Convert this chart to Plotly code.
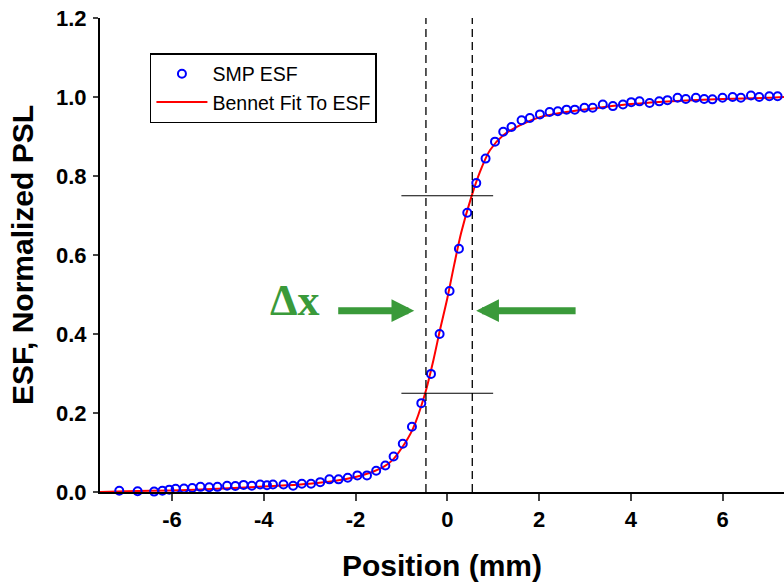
import plotly.graph_objects as go

# ---- data ----
esf_x = [-7.15, -6.75, -6.57, -6.39, -6.21, -6.06, -5.92, -5.74, -5.56, -5.38,
         -5.19, -5.01, -4.80, -4.62, -4.44, -4.26, -4.08, -3.93, -3.80, -3.57,
         -3.36, -3.17, -2.97, -2.77, -2.57, -2.37, -2.17, -1.96, -1.75, -1.55,
         -1.35, -1.17, -0.97, -0.77, -0.566, -0.355, -0.167, 0.05, 0.254, 0.436,
         0.632, 0.835, 1.04, 1.22, 1.40, 1.62, 1.80, 2.02, 2.23, 2.41,
         2.60, 2.78, 2.99, 3.17, 3.39, 3.61, 3.83, 4.01, 4.19, 4.41,
         4.62, 4.80, 5.02, 5.20, 5.42, 5.60, 5.78, 6.00, 6.22, 6.40,
         6.62, 6.80, 7.02, 7.20]
esf_y = [0.003, 0.002, -0.001, 0.001, 0.003, 0.006, 0.008, 0.009, 0.010, 0.013,
         0.012, 0.013, 0.016, 0.015, 0.018, 0.016, 0.019, 0.017, 0.019, 0.019,
         0.016, 0.021, 0.021, 0.025, 0.032, 0.032, 0.036, 0.042, 0.042, 0.054,
         0.067, 0.090, 0.122, 0.165, 0.225, 0.299, 0.400, 0.509, 0.616, 0.707,
         0.782, 0.844, 0.887, 0.912, 0.924, 0.941, 0.947, 0.956, 0.962, 0.964,
         0.968, 0.968, 0.973, 0.973, 0.981, 0.977, 0.981, 0.987, 0.989, 0.985,
         0.989, 0.992, 0.998, 0.995, 0.998, 0.995, 0.994, 0.998, 1.000, 0.998,
         1.004, 1.000, 1.002, 1.002]

fit_x = [-7.57, -7.0, -6.0, -5.0, -4.0, -3.5, -3.0, -2.5, -2.0, -1.7, -1.4, -1.2,
         -1.0, -0.75, -0.49, -0.30, -0.16, 0.0, 0.15, 0.30, 0.53, 0.71, 0.93,
         1.22, 1.58, 2.02, 2.59, 3.32, 4.0, 5.0, 6.0, 7.0, 7.34]
fit_y = [0.0, 0.002, 0.004, 0.008, 0.014, 0.017, 0.021, 0.027, 0.038, 0.048, 0.063, 0.080,
         0.110, 0.160, 0.247, 0.335, 0.410, 0.490, 0.575, 0.655, 0.749, 0.810, 0.865,
         0.903, 0.928, 0.949, 0.962, 0.973, 0.982, 0.990, 0.995, 0.998, 1.000]

x_ticks = [-6, -4, -2, 0, 2, 4, 6]
x_ticklabels = ["-6", "-4", "-2", "0", "2", "4", "6"]
y_ticks = [0.0, 0.2, 0.4, 0.6, 0.8, 1.0, 1.2]
y_ticklabels = ["0.0", "0.2", "0.4", "0.6", "0.8", "1.0", "1.2"]
x_range = [-7.57, 7.34]
y_range = [0.0, 1.2]

edge_lo, edge_hi = -0.465, 0.545      # dashed verticals
level_lo, level_hi = 0.25, 0.75       # 25% / 75% levels
level_span = [-1.0, 1.0]
arrow_y = 0.459
arrow_right = (-2.41, -0.72)          # tail, tip
arrow_left = (2.83, 0.63)             # tail, tip
green = "#3a9a3a"
font_family = "Liberation Sans, Arial, sans-serif"

fig = go.Figure()
fig.add_trace(go.Scatter(
    x=fit_x, y=fit_y, mode="lines", name="Bennet Fit To ESF",
    line=dict(color="#ff0000", width=2, shape="spline", smoothing=0.8),
    cliponaxis=False, showlegend=False))
fig.add_trace(go.Scatter(
    x=esf_x, y=esf_y, mode="markers", name="SMP ESF",
    marker=dict(symbol="circle-open", size=8, color="#0000ff",
                line=dict(width=2, color="#0000ff")),
    cliponaxis=False))
# legend-only copy of the fit so it appears second in the legend
fig.add_trace(go.Scatter(
    x=[None], y=[None], mode="lines", name="Bennet Fit To ESF",
    line=dict(color="#ff0000", width=2)))

# dashed verticals
for xv in (edge_lo, edge_hi):
    fig.add_shape(type="line", x0=xv, x1=xv, y0=y_range[0], y1=y_range[1],
                  xref="x", yref="y", line=dict(color="black", width=1.3, dash="8px,5px"))
# horizontal level lines
for yv in (level_lo, level_hi):
    fig.add_shape(type="line", x0=level_span[0], x1=level_span[1], y0=yv, y1=yv,
                  xref="x", yref="y", line=dict(color="black", width=1.2))

# arrows
for tail, tip in (arrow_right, arrow_left):
    fig.add_annotation(x=tip, y=arrow_y, ax=tail, ay=arrow_y, xref="x", yref="y",
                       axref="x", ayref="y", text="", showarrow=True,
                       arrowhead=2, arrowsize=0.65, arrowwidth=7, arrowcolor=green)
fig.add_annotation(x=-3.33, y=0.484, xref="x", yref="y", text="<b>Δx</b>",
                   showarrow=False,
                   font=dict(family="Liberation Serif, Times New Roman, serif",
                             size=44, color=green))

fig.update_layout(
    width=784, height=587,
    margin=dict(l=100, r=0, t=18, b=95),
    paper_bgcolor="white", plot_bgcolor="white",
    font=dict(family=font_family, color="black"),
    showlegend=True,
    legend=dict(x=0.073, y=0.926, xanchor="left", yanchor="top",
                bordercolor="black", borderwidth=1.5, bgcolor="white",
                font=dict(size=19.5, family=font_family), itemwidth=51,
                tracegroupgap=0),
    xaxis=dict(range=x_range, tickvals=x_ticks, ticktext=x_ticklabels,
               ticks="outside", ticklen=7, automargin=False,
               tickwidth=2, showline=True, linewidth=2, linecolor="black",
               showgrid=False, zeroline=False, mirror=False,
               ticklabeloverflow="allow",
               tickfont=dict(size=22, family=font_family, weight="bold"),
               title=dict(text="Position (mm)", standoff=24,
                          font=dict(size=30, family=font_family, weight="bold"))),
    yaxis=dict(range=y_range, tickvals=y_ticks, ticktext=y_ticklabels,
               ticks="outside", automargin=False,
               ticklen=5, tickwidth=2, showline=True, linewidth=2, linecolor="black",
               showgrid=False, zeroline=False, mirror=False, ticklabelstandoff=2,
               ticklabeloverflow="allow",
               tickfont=dict(size=22, family=font_family, weight="bold"),
               title=dict(text="ESF, Normalized PSL", standoff=14,
                          font=dict(size=30, family=font_family, weight="bold"))),
)

# remove the browser's default page margin so the figure fills the window
fig.write_html("out.html", config={"displayModeBar": False},
               post_script="document.body.style.margin='0';")
